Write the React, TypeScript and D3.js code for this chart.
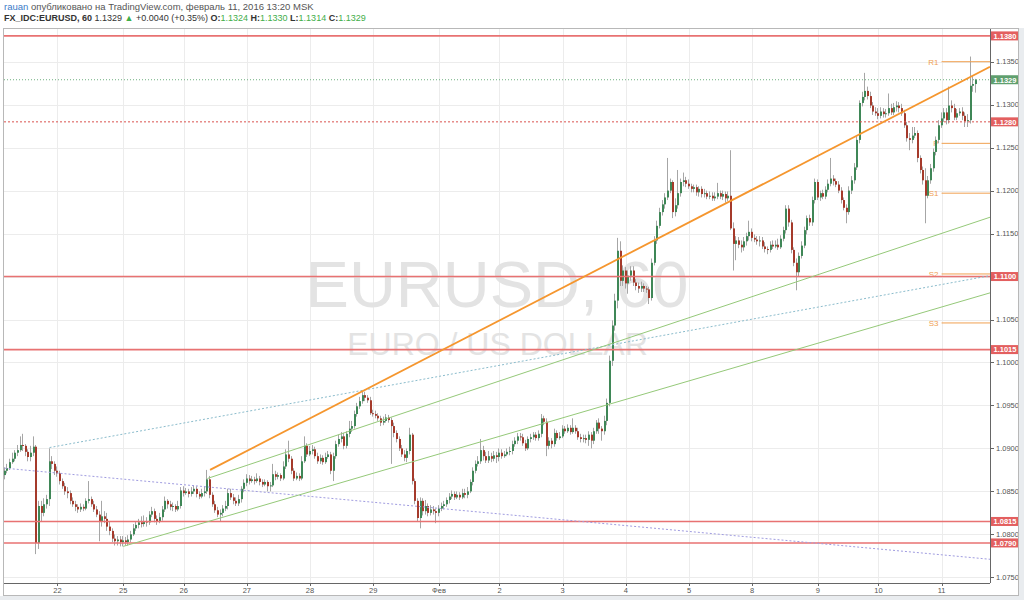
import React from 'react';
import * as d3 from 'd3';

// ---- DATA (EURUSD hourly candles) ----
const open = [
  1.0869,1.0874,1.0877,1.0884,1.0888,1.0895,1.0898,1.0904,1.0903,1.0896,1.0890,1.0895,1.0902,1.0790,1.0833,1.0825,1.0835,1.0841,1.0885,1.0882,
  1.0874,1.0871,1.0862,1.0856,1.0850,1.0848,1.0839,1.0835,1.0832,1.0829,1.0832,1.0830,1.0839,1.0841,1.0835,1.0829,1.0823,1.0815,1.0821,1.0818,
  1.0809,1.0804,1.0795,1.0792,1.0794,1.0791,1.0793,1.0791,1.0794,1.0800,1.0807,1.0811,1.0814,1.0812,1.0815,1.0814,1.0823,1.0827,1.0818,1.0815,
  1.0820,1.0829,1.0839,1.0835,1.0832,1.0833,1.0829,1.0833,1.0851,1.0848,1.0850,1.0847,1.0850,1.0853,1.0847,1.0844,1.0848,1.0850,1.0864,1.0846,
  1.0835,1.0828,1.0823,1.0825,1.0830,1.0833,1.0848,1.0843,1.0839,1.0836,1.0841,1.0853,1.0860,1.0865,1.0862,1.0864,1.0862,1.0865,1.0861,1.0858,
  1.0861,1.0856,1.0857,1.0870,1.0867,1.0869,1.0865,1.0879,1.0893,1.0888,1.0874,1.0865,1.0868,1.0865,1.0885,1.0903,1.0893,1.0897,1.0899,1.0891,
  1.0885,1.0889,1.0884,1.0890,1.0893,1.0874,1.0891,1.0905,1.0911,1.0914,1.0903,1.0917,1.0923,1.0926,1.0940,1.0949,1.0955,1.0962,1.0959,1.0956,
  1.0941,1.0940,1.0938,1.0935,1.0930,1.0932,1.0936,1.0933,1.0926,1.0918,1.0911,1.0900,1.0893,1.0889,1.0897,1.0916,1.0862,1.0839,1.0819,1.0839,
  1.0827,1.0833,1.0825,1.0829,1.0827,1.0825,1.0830,1.0833,1.0835,1.0840,1.0844,1.0847,1.0843,1.0846,1.0843,1.0848,1.0846,1.0850,1.0861,1.0874,
  1.0882,1.0885,1.0898,1.0891,1.0886,1.0891,1.0888,1.0892,1.0890,1.0895,1.0891,1.0893,1.0896,1.0897,1.0905,1.0909,1.0914,1.0913,1.0906,1.0900,
  1.0911,1.0913,1.0916,1.0912,1.0917,1.0935,1.0931,1.0903,1.0909,1.0905,1.0918,1.0912,1.0914,1.0923,1.0920,1.0924,1.0919,1.0924,1.0920,1.0913,
  1.0911,1.0912,1.0910,1.0916,1.0909,1.0920,1.0930,1.0923,1.0920,1.0932,1.0953,1.1002,1.1043,1.1072,1.1130,1.1095,1.1107,1.1092,1.1101,1.1107,
  1.1093,1.1089,1.1086,1.1089,1.1086,1.1085,1.1075,1.1116,1.1142,1.1159,1.1175,1.1184,1.1192,1.1200,1.1210,1.1175,1.1183,1.1197,1.1210,1.1212,
  1.1208,1.1205,1.1202,1.1204,1.1198,1.1202,1.1196,1.1197,1.1193,1.1194,1.1191,1.1193,1.1197,1.1193,1.1196,1.1191,1.1194,1.1156,1.1138,1.1142,
  1.1137,1.1134,1.1141,1.1147,1.1152,1.1145,1.1143,1.1141,1.1142,1.1135,1.1132,1.1131,1.1137,1.1135,1.1137,1.1134,1.1144,1.1154,1.1179,1.1163,
  1.1131,1.1116,1.1105,1.1124,1.1136,1.1154,1.1168,1.1163,1.1189,1.1210,1.1192,1.1197,1.1193,1.1201,1.1208,1.1214,1.1211,1.1207,1.1200,1.1189,
  1.1180,1.1175,1.1200,1.1212,1.1227,1.1259,1.1302,1.1309,1.1316,1.1310,1.1299,1.1292,1.1290,1.1287,1.1292,1.1289,1.1290,1.1296,1.1291,1.1297,
  1.1299,1.1296,1.1290,1.1276,1.1261,1.1259,1.1264,1.1267,1.1238,1.1224,1.1212,1.1194,1.1212,1.1226,1.1245,1.1259,1.1276,1.1284,1.1291,1.1282,
  1.1299,1.1296,1.1285,1.1290,1.1292,1.1287,1.1281,1.1282,1.1322,1.1324,
];
const high = [
  1.0878,1.0882,1.0888,1.0895,1.0898,1.0904,1.0914,1.0917,1.0905,1.0899,1.0903,1.0914,1.0904,1.0839,1.0839,1.0842,1.0846,1.0900,1.0891,1.0885,
  1.0879,1.0874,1.0865,1.0860,1.0855,1.0851,1.0843,1.0839,1.0835,1.0836,1.0835,1.0842,1.0862,1.0844,1.0839,1.0833,1.0827,1.0839,1.0827,1.0825,
  1.0815,1.0807,1.0800,1.0798,1.0798,1.0798,1.0797,1.0799,1.0804,1.0812,1.0815,1.0818,1.0821,1.0822,1.0820,1.0827,1.0832,1.0830,1.0822,1.0825,
  1.0833,1.0844,1.0841,1.0839,1.0837,1.0835,1.0839,1.0855,1.0856,1.0854,1.0853,1.0855,1.0857,1.0856,1.0850,1.0853,1.0856,1.0875,1.0868,1.0849,
  1.0839,1.0832,1.0829,1.0834,1.0839,1.0853,1.0853,1.0847,1.0843,1.0846,1.0856,1.0864,1.0870,1.0869,1.0868,1.0867,1.0871,1.0868,1.0864,1.0864,
  1.0863,1.0861,1.0882,1.0874,1.0872,1.0871,1.0885,1.0899,1.0909,1.0891,1.0877,1.0872,1.0871,1.0891,1.0914,1.0906,1.0903,1.0904,1.0902,1.0895,
  1.0893,1.0892,1.0895,1.0897,1.0896,1.0895,1.0909,1.0916,1.0919,1.0918,1.0920,1.0932,1.0932,1.0944,1.0953,1.0960,1.0967,1.0966,1.0962,1.0960,
  1.0945,1.0944,1.0941,1.0938,1.0937,1.0940,1.0939,1.0936,1.0930,1.0921,1.0914,1.0904,1.0898,1.0900,1.0924,1.0918,1.0865,1.0842,1.0843,1.0842,
  1.0840,1.0836,1.0834,1.0833,1.0830,1.0834,1.0837,1.0839,1.0843,1.0848,1.0851,1.0850,1.0850,1.0849,1.0853,1.0853,1.0855,1.0864,1.0878,1.0886,
  1.0891,1.0911,1.0903,1.0896,1.0897,1.0895,1.0897,1.0896,1.0900,1.0899,1.0897,1.0900,1.0902,1.0909,1.0913,1.0918,1.0918,1.0917,1.0910,1.0914,
  1.0917,1.0919,1.0919,1.0921,1.0940,1.0938,1.0935,1.0913,1.0912,1.0923,1.0921,1.0919,1.0927,1.0926,1.0928,1.0927,1.0935,1.0927,1.0924,1.0917,
  1.0916,1.0916,1.0920,1.0919,1.0924,1.0933,1.0935,1.0926,1.0938,1.0958,1.1008,1.1049,1.1080,1.1145,1.1141,1.1113,1.1111,1.1107,1.1112,1.1112,
  1.1097,1.1093,1.1094,1.1092,1.1089,1.1088,1.1121,1.1147,1.1165,1.1180,1.1189,1.1197,1.1238,1.1214,1.1212,1.1191,1.1224,1.1214,1.1221,1.1216,
  1.1213,1.1208,1.1207,1.1207,1.1205,1.1205,1.1202,1.1200,1.1199,1.1198,1.1198,1.1209,1.1200,1.1200,1.1199,1.1199,1.1247,1.1163,1.1147,1.1146,
  1.1142,1.1146,1.1151,1.1165,1.1156,1.1149,1.1147,1.1147,1.1146,1.1140,1.1135,1.1141,1.1142,1.1142,1.1144,1.1148,1.1158,1.1183,1.1183,1.1166,
  1.1134,1.1121,1.1128,1.1141,1.1158,1.1171,1.1172,1.1193,1.1214,1.1213,1.1200,1.1201,1.1205,1.1213,1.1238,1.1218,1.1214,1.1211,1.1204,1.1192,
  1.1184,1.1205,1.1217,1.1232,1.1263,1.1305,1.1315,1.1337,1.1321,1.1315,1.1303,1.1297,1.1296,1.1297,1.1296,1.1295,1.1313,1.1301,1.1302,1.1304,
  1.1303,1.1301,1.1294,1.1280,1.1267,1.1274,1.1274,1.1270,1.1241,1.1228,1.1226,1.1217,1.1231,1.1249,1.1263,1.1282,1.1291,1.1296,1.1296,1.1321,
  1.1305,1.1301,1.1295,1.1296,1.1297,1.1291,1.1289,1.1356,1.1334,1.1330,
];
const low = [
  1.0864,1.0871,1.0875,1.0882,1.0885,1.0891,1.0896,1.0897,1.0891,1.0885,1.0885,1.0891,1.0777,1.0783,1.0815,1.0821,1.0830,1.0833,1.0876,1.0869,
  1.0867,1.0858,1.0853,1.0846,1.0842,1.0835,1.0832,1.0827,1.0825,1.0826,1.0827,1.0828,1.0836,1.0832,1.0826,1.0820,1.0792,1.0809,1.0813,1.0804,
  1.0799,1.0791,1.0787,1.0787,1.0786,1.0786,1.0787,1.0787,1.0791,1.0798,1.0804,1.0807,1.0808,1.0809,1.0809,1.0811,1.0820,1.0814,1.0811,1.0813,
  1.0816,1.0826,1.0830,1.0828,1.0827,1.0826,1.0827,1.0830,1.0844,1.0846,1.0843,1.0844,1.0847,1.0843,1.0841,1.0842,1.0844,1.0847,1.0842,1.0832,
  1.0825,1.0820,1.0815,1.0821,1.0827,1.0829,1.0840,1.0835,1.0833,1.0833,1.0837,1.0849,1.0856,1.0858,1.0860,1.0858,1.0860,1.0857,1.0855,1.0856,
  1.0850,1.0850,1.0855,1.0863,1.0864,1.0862,1.0863,1.0876,1.0884,1.0870,1.0862,1.0863,1.0862,1.0863,1.0883,1.0890,1.0891,1.0893,1.0888,1.0882,
  1.0882,1.0881,1.0882,1.0888,1.0870,1.0862,1.0888,1.0902,1.0907,1.0899,1.0900,1.0913,1.0919,1.0923,1.0937,1.0946,1.0952,1.0955,1.0953,1.0939,
  1.0937,1.0935,1.0932,1.0926,1.0927,1.0930,1.0930,1.0882,1.0913,1.0907,1.0897,1.0890,1.0885,1.0884,1.0893,1.0858,1.0835,1.0815,1.0807,1.0822,
  1.0823,1.0821,1.0822,1.0823,1.0813,1.0821,1.0827,1.0829,1.0832,1.0836,1.0841,1.0840,1.0841,1.0840,1.0841,1.0842,1.0842,1.0848,1.0857,1.0871,
  1.0879,1.0882,1.0886,1.0883,1.0883,1.0884,1.0885,1.0883,1.0885,1.0888,1.0889,1.0891,1.0892,1.0893,1.0902,1.0905,1.0909,1.0903,1.0897,1.0898,
  1.0907,1.0910,1.0909,1.0909,1.0913,1.0927,1.0891,1.0899,1.0900,1.0902,1.0909,1.0910,1.0912,1.0917,1.0918,1.0916,1.0917,1.0917,1.0910,1.0907,
  1.0907,1.0906,1.0903,1.0900,1.0905,1.0917,1.0917,1.0909,1.0916,1.0927,1.0949,1.0996,1.1037,1.1063,1.1089,1.1089,1.1086,1.1080,1.1095,1.1089,
  1.1084,1.1081,1.1082,1.1082,1.1081,1.1068,1.1072,1.1113,1.1138,1.1156,1.1171,1.1179,1.1189,1.1197,1.1168,1.1170,1.1179,1.1193,1.1205,1.1204,
  1.1202,1.1198,1.1198,1.1194,1.1193,1.1192,1.1192,1.1190,1.1190,1.1188,1.1188,1.1190,1.1190,1.1189,1.1186,1.1188,1.1154,1.1107,1.1119,1.1133,
  1.1128,1.1130,1.1136,1.1142,1.1141,1.1140,1.1137,1.1135,1.1132,1.1128,1.1126,1.1128,1.1132,1.1133,1.1131,1.1132,1.1141,1.1150,1.1158,1.1127,
  1.1112,1.1084,1.1100,1.1121,1.1133,1.1149,1.1159,1.1159,1.1185,1.1189,1.1188,1.1190,1.1190,1.1198,1.1205,1.1206,1.1204,1.1197,1.1185,1.1177,
  1.1162,1.1172,1.1196,1.1208,1.1224,1.1255,1.1298,1.1305,1.1306,1.1296,1.1288,1.1287,1.1283,1.1284,1.1285,1.1285,1.1287,1.1288,1.1288,1.1292,
  1.1291,1.1287,1.1273,1.1257,1.1247,1.1255,1.1261,1.1233,1.1220,1.1207,1.1162,1.1191,1.1208,1.1222,1.1241,1.1255,1.1273,1.1280,1.1277,1.1278,
  1.1291,1.1282,1.1282,1.1287,1.1282,1.1274,1.1274,1.1278,1.1315,1.1314,
];
const close = [
  1.0874,1.0877,1.0884,1.0888,1.0895,1.0898,1.0904,1.0903,1.0896,1.0890,1.0895,1.0902,1.0790,1.0833,1.0825,1.0835,1.0841,1.0885,1.0882,1.0874,
  1.0871,1.0862,1.0856,1.0850,1.0848,1.0839,1.0835,1.0832,1.0829,1.0832,1.0830,1.0839,1.0841,1.0835,1.0829,1.0823,1.0815,1.0821,1.0818,1.0809,
  1.0804,1.0795,1.0792,1.0794,1.0791,1.0793,1.0791,1.0794,1.0800,1.0807,1.0811,1.0814,1.0812,1.0815,1.0814,1.0823,1.0827,1.0818,1.0815,1.0820,
  1.0829,1.0839,1.0835,1.0832,1.0833,1.0829,1.0833,1.0851,1.0848,1.0850,1.0847,1.0850,1.0853,1.0847,1.0844,1.0848,1.0850,1.0864,1.0846,1.0835,
  1.0828,1.0823,1.0825,1.0830,1.0833,1.0848,1.0843,1.0839,1.0836,1.0841,1.0853,1.0860,1.0865,1.0862,1.0864,1.0862,1.0865,1.0861,1.0858,1.0861,
  1.0856,1.0857,1.0870,1.0867,1.0869,1.0865,1.0879,1.0893,1.0888,1.0874,1.0865,1.0868,1.0865,1.0885,1.0903,1.0893,1.0897,1.0899,1.0891,1.0885,
  1.0889,1.0884,1.0890,1.0893,1.0874,1.0891,1.0905,1.0911,1.0914,1.0903,1.0917,1.0923,1.0926,1.0940,1.0949,1.0955,1.0962,1.0959,1.0956,1.0941,
  1.0940,1.0938,1.0935,1.0930,1.0932,1.0936,1.0933,1.0926,1.0918,1.0911,1.0900,1.0893,1.0889,1.0897,1.0916,1.0862,1.0839,1.0819,1.0839,1.0827,
  1.0833,1.0825,1.0829,1.0827,1.0825,1.0830,1.0833,1.0835,1.0840,1.0844,1.0847,1.0843,1.0846,1.0843,1.0848,1.0846,1.0850,1.0861,1.0874,1.0882,
  1.0885,1.0898,1.0891,1.0886,1.0891,1.0888,1.0892,1.0890,1.0895,1.0891,1.0893,1.0896,1.0897,1.0905,1.0909,1.0914,1.0913,1.0906,1.0900,1.0911,
  1.0913,1.0916,1.0912,1.0917,1.0935,1.0931,1.0903,1.0909,1.0905,1.0918,1.0912,1.0914,1.0923,1.0920,1.0924,1.0919,1.0924,1.0920,1.0913,1.0911,
  1.0912,1.0910,1.0916,1.0909,1.0920,1.0930,1.0923,1.0920,1.0932,1.0953,1.1002,1.1043,1.1072,1.1130,1.1095,1.1107,1.1092,1.1101,1.1107,1.1093,
  1.1089,1.1086,1.1089,1.1086,1.1085,1.1075,1.1116,1.1142,1.1159,1.1175,1.1184,1.1192,1.1200,1.1210,1.1175,1.1183,1.1197,1.1210,1.1212,1.1208,
  1.1205,1.1202,1.1204,1.1198,1.1202,1.1196,1.1197,1.1193,1.1194,1.1191,1.1193,1.1197,1.1193,1.1196,1.1191,1.1194,1.1156,1.1138,1.1142,1.1137,
  1.1134,1.1141,1.1147,1.1152,1.1145,1.1143,1.1141,1.1142,1.1135,1.1132,1.1131,1.1137,1.1135,1.1137,1.1134,1.1144,1.1154,1.1179,1.1163,1.1131,
  1.1116,1.1105,1.1124,1.1136,1.1154,1.1168,1.1163,1.1189,1.1210,1.1192,1.1197,1.1193,1.1201,1.1208,1.1214,1.1211,1.1207,1.1200,1.1189,1.1180,
  1.1175,1.1200,1.1212,1.1227,1.1259,1.1302,1.1309,1.1316,1.1310,1.1299,1.1292,1.1290,1.1287,1.1292,1.1289,1.1290,1.1296,1.1291,1.1297,1.1299,
  1.1296,1.1290,1.1276,1.1261,1.1259,1.1264,1.1267,1.1238,1.1224,1.1212,1.1194,1.1212,1.1226,1.1245,1.1259,1.1276,1.1284,1.1291,1.1282,1.1299,
  1.1296,1.1285,1.1290,1.1292,1.1287,1.1281,1.1282,1.1322,1.1324,1.1329,
];

// time axis: bar index where each day label sits, and the label
const dayTickIndex = [20, 45, 68, 92, 116, 140, 165, 188, 212, 236, 260, 284, 309, 332, 356];
const dayTickLabel = ['22', '25', '26', '27', '28', '29', 'Фев', '2', '3', '4', '5', '8', '9', '10', '11'];

// price axis ticks
const priceTicks = [1.0750, 1.0800, 1.0850, 1.0900, 1.0950, 1.1000, 1.1050, 1.1100, 1.1150, 1.1200, 1.1250, 1.1300, 1.1350];

// horizontal support / resistance levels
const redLevels = [1.1380, 1.1100, 1.1015, 1.0815, 1.0790];
const dashedLevel = 1.1280;
const lastPrice = 1.1329;

// daily pivots (drawn from the start of the last day)
const pivotNames = ['R1', 'P', 'S1', 'S2', 'S3'];
const pivotValues = [1.1350, 1.1255, 1.1197, 1.1103, 1.1046];
const pivotStartIndex = 356;

// trend lines: [barIndex, price] anchors
const orangeTrend = [[78, 1.0875], [374.4, 1.1344]];
const greenUpper = [[77, 1.0865], [374.4, 1.1169]];
const greenLower = [[45, 1.0786], [374.4, 1.1081]];
const tealDotted = [[17, 1.0901], [374.4, 1.1101]];
const purpleDotted = [[0, 1.0877], [374.4, 1.0771]];

// ---- LAYOUT ----
const W = 1024, H = 600;
const PL = 4, PR = 990, PT = 28, PB = 583;
const FONT = 'Arial, "Liberation Sans", sans-serif';

export default function App() {
  const x = d3.scaleLinear().domain([-0.3, 374.4]).range([PL, PR]);
  const y = d3.scaleLinear().domain([1.07434, 1.13892]).range([PB, PT]);
  const line = d3.line<number[]>().x(d => x(d[0])).y(d => y(d[1]));

  const boxValues = [...redLevels, dashedLevel, lastPrice];
  const visibleTicks = priceTicks.filter(p => boxValues.every(b => Math.abs(y(b) - y(p)) > 6));

  const candles = close.map((c, i) => {
    const o = open[i];
    const cx = Math.round(x(i));
    const up = c >= o;
    const top = y(Math.max(o, c));
    const bot = y(Math.min(o, c));
    return (
      <g key={i}>
        <line x1={cx - 0.5} x2={cx - 0.5} y1={y(high[i])} y2={y(low[i])} stroke="#a6a6a6" strokeWidth={1} />
        <rect x={cx - 1} y={top} width={2} height={Math.max(1, bot - top)} fill={up ? '#3f8757' : '#a53a2b'} />
      </g>
    );
  });

  const boxLabel = (v: number, fill: string, key: string) => (
    <g key={key}>
      <rect x={PR + 1} y={y(v) - 4.5} width={28} height={9} fill={fill} />
      <text x={PR + 15} y={y(v) + 2.8} fontSize={7.5} fontWeight="bold" fill="#fff" textAnchor="middle" fontFamily={FONT}>{v.toFixed(4)}</text>
    </g>
  );

  return (
    <div style={{ position: 'absolute', left: 0, top: 0 }}>
      <svg width={W} height={H} style={{ display: 'block', background: '#fff' }}>
        <defs>
          <clipPath id="plot"><rect x={PL} y={PT} width={PR - PL} height={PB - PT} /></clipPath>
        </defs>
        <rect x={0} y={0} width={W} height={H} fill="#fff" />
        <rect x={0} y={596} width={W} height={4} fill="#e9ecef" />
        <rect x={1019} y={28} width={5} height={572} fill="#e9ecef" />

        {/* header */}
        <text x={4} y={10} fontSize={9.5} fontFamily={FONT} fill="#555">
          <tspan fill="#3a7bc8">rauan</tspan> опубликовано на TradingView.com, февраль 11, 2016 13:20 MSK
        </text>
        <text x={4} y={21} fontSize={9} fontFamily={FONT} fill="#333">
          <tspan fontWeight="bold">FX_IDC:EURUSD, 60</tspan>
          <tspan> 1.1329 </tspan>
          <tspan fill="#3fae49">▲</tspan>
          <tspan> +0.0040 (+0.35%) </tspan>
          <tspan fontWeight="bold">O:</tspan><tspan fill="#3fae49">1.1324</tspan>
          <tspan fontWeight="bold"> H:</tspan><tspan fill="#3fae49">1.1330</tspan>
          <tspan fontWeight="bold"> L:</tspan><tspan fill="#3fae49">1.1314</tspan>
          <tspan fontWeight="bold"> C:</tspan><tspan fill="#3fae49">1.1329</tspan>
        </text>

        {/* grid */}
        <g stroke="#ececec" strokeWidth={1}>
          {priceTicks.map(p => <line key={'h' + p} x1={PL} x2={PR} y1={Math.round(y(p)) + 0.5} y2={Math.round(y(p)) + 0.5} />)}
          {dayTickIndex.map(i => <line key={'v' + i} x1={Math.round(x(i)) + 0.5} x2={Math.round(x(i)) + 0.5} y1={PT} y2={PB} />)}
        </g>

        {/* watermark */}
        <text x={497} y={307} fontSize={65} fill="#e3e3e3" textAnchor="middle" fontFamily={FONT}>EURUSD, 60</text>
        <text x={497.5} y={355} fontSize={32} fill="#e3e3e3" textAnchor="middle" fontFamily={FONT}>EURO / US DOLLAR</text>

        {/* pivot labels (under candles) */}
        {pivotNames.map((n, k) => (
          <text key={n} x={x(pivotStartIndex) - 3} y={y(pivotValues[k]) + 3} fontSize={8} fill="#f0a050" textAnchor="end" fontFamily={FONT}>{n}</text>
        ))}

        <g clipPath="url(#plot)">
          {candles}
          {/* horizontal levels */}
          {redLevels.map(v => (
            <line key={'r' + v} x1={PL} x2={PR} y1={y(v)} y2={y(v)} stroke="#e87272" strokeWidth={1.6} />
          ))}
          <line x1={PL} x2={PR} y1={y(dashedLevel)} y2={y(dashedLevel)} stroke="#d9534f" strokeWidth={1} strokeDasharray="2,2" />
          <line x1={PL} x2={PR} y1={y(lastPrice)} y2={y(lastPrice)} stroke="#6fb07f" strokeWidth={1} strokeDasharray="1,2" />
          {/* pivots */}
          {pivotValues.map((v, k) => (
            <line key={'p' + k} x1={x(pivotStartIndex)} x2={PR} y1={y(v)} y2={y(v)} stroke="#f0a050" strokeWidth={1} />
          ))}
          {/* trend lines */}
          <path d={line(purpleDotted as any) || ''} stroke="#a09ce0" strokeWidth={1} fill="none" strokeDasharray="2,2" />
          <path d={line(tealDotted as any) || ''} stroke="#8bbccc" strokeWidth={1} fill="none" strokeDasharray="2,2" />
          <path d={line(greenLower as any) || ''} stroke="#95c979" strokeWidth={1} fill="none" />
          <path d={line(greenUpper as any) || ''} stroke="#95c979" strokeWidth={1} fill="none" />
          <path d={line(orangeTrend as any) || ''} stroke="#f5962e" strokeWidth={1.8} fill="none" />
        </g>

        {/* axes */}
        <line x1={PR + 0.5} x2={PR + 0.5} y1={PT} y2={PB} stroke="#666" />
        <line x1={PL} x2={PR} y1={PB + 0.5} y2={PB + 0.5} stroke="#666" />
        {priceTicks.map(p => (
          <line key={'tk' + p} x1={PR} x2={PR + 4} y1={Math.round(y(p)) + 0.5} y2={Math.round(y(p)) + 0.5} stroke="#666" />
        ))}
        {visibleTicks.map(p => (
          <text key={'t' + p} x={PR + 6} y={y(p) + 2.6} fontSize={7.5} fill="#555" fontFamily={FONT}>{p.toFixed(4)}</text>
        ))}
        {dayTickIndex.map((i, k) => (
          <g key={'d' + i}>
            <line x1={Math.round(x(i)) + 0.5} x2={Math.round(x(i)) + 0.5} y1={PB} y2={PB + 3} stroke="#666" />
            <text x={x(i)} y={593} fontSize={7.5} fill="#555" textAnchor="middle" fontFamily={FONT}>{dayTickLabel[k]}</text>
          </g>
        ))}

        {/* price labels */}
        {redLevels.map(v => boxLabel(v, '#e35f5f', 'b' + v))}
        {boxLabel(dashedLevel, '#e35f5f', 'bd')}
        {boxLabel(lastPrice, '#5f9f6e', 'bl')}

        {/* frame */}
        <rect x={3.5} y={28.5} width={1015} height={567} fill="none" stroke="#b8b8b8" />
      </svg>
    </div>
  );
}
